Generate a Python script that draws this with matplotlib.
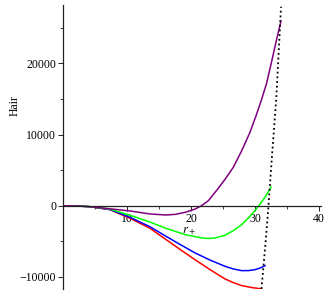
import matplotlib as mpl
import matplotlib.pyplot as plt
from matplotlib.ticker import MultipleLocator

mpl.rcParams.update(
    {
        "font.family": "serif",
        "font.serif": ["Liberation Serif", "DejaVu Serif"],
        "font.size": 8.5,
        "mathtext.fontset": "stix",
        "axes.unicode_minus": True,
    }
)

# curves (r_+ , Hair)
r_purple = [0, 2, 4.2, 7, 10.5, 13.6, 16, 17.5, 19.1, 20.6, 21.6, 22.7, 24, 25.3, 26.6, 27.9, 29.2, 30.1, 31, 31.8, 32.6, 33.3, 34.05]
h_purple = [0, -30, -140, -400, -740, -1160, -1300, -1220, -930, -480, -20, 700, 2150, 3700, 5400, 7700, 10300, 12500, 14870, 17200, 20300, 23100, 25950]

r_green = [0, 2, 4, 7.3, 10.5, 13.6, 16, 19.1, 21.7, 22.7, 23.7, 25.3, 26.6, 27.9, 29.3, 30.6, 31.6, 32.5]
h_green = [0, -30, -120, -460, -1350, -2300, -3150, -4070, -4530, -4600, -4540, -4150, -3500, -2670, -1400, 0, 1250, 2620]

r_blue = [0, 2, 4, 7.3, 10.5, 13.6, 16, 18.3, 20.6, 23, 25.3, 26.6, 27.9, 29, 30, 30.8, 31.56]
h_blue = [0, -30, -120, -520, -1640, -2960, -4250, -5450, -6620, -7650, -8510, -8880, -9120, -9110, -8980, -8750, -8420]

r_red = [0, 2, 4, 7.3, 10.5, 13.6, 16, 18.3, 20.6, 23, 25.3, 26.6, 27.9, 29.5, 31.0]
h_red = [0, -30, -120, -540, -1780, -3180, -4700, -6150, -7570, -9000, -10280, -10800, -11220, -11500, -11680]

r_bound = [31.0, 31.6, 32.1, 32.6, 33.3, 34.06]
h_bound = [-11680, -5600, 0, 6450, 14870, 27950]

xticks = [10, 20, 30, 40]
yticks = [-10000, 0, 10000, 20000]


def main() -> None:
    fig = plt.figure(figsize=(3.32, 2.95), dpi=100)
    ax = fig.add_axes([63 / 332, 6 / 295, 258 / 332, 284 / 295])

    ax.plot(r_red, h_red, color="#ff0000", linewidth=1.1)
    ax.plot(r_blue, h_blue, color="#0000ff", linewidth=1.1)
    ax.plot(r_green, h_green, color="#00ff00", linewidth=1.1)
    ax.plot(r_purple, h_purple, color="#800080", linewidth=1.1)
    ax.plot(r_bound, h_bound, color="black", linewidth=1.3, linestyle=(0, (1, 1.6)))

    ax.set_xlim(0, 40.3)
    ax.set_ylim(-11700, 28200)

    for side in ("top", "right"):
        ax.spines[side].set_visible(False)
    ax.spines["bottom"].set_position(("data", 0))
    ax.spines["left"].set_position(("data", 0))
    for spine in ax.spines.values():
        spine.set_linewidth(0.9)
        spine.set_color("#222222")

    ax.set_xticks(xticks)
    ax.set_yticks(yticks)
    ax.xaxis.set_minor_locator(MultipleLocator(5))
    ax.yaxis.set_minor_locator(MultipleLocator(5000))
    ax.tick_params(which="major", length=3.5, width=0.7, pad=1.5, colors="#222222")
    ax.tick_params(which="minor", length=2, width=0.6, colors="#222222")
    ax.tick_params(labelcolor="black")

    ax.text(18.6, -3550, r"$r_+$", fontsize=9, ha="left", va="center")
    ax.set_ylabel("Hair", fontsize=8.5)
    ax.yaxis.set_label_coords(-0.165, 0.645)

    fig.savefig("out.png", dpi=100)
    plt.close(fig)


if __name__ == "__main__":
    main()
